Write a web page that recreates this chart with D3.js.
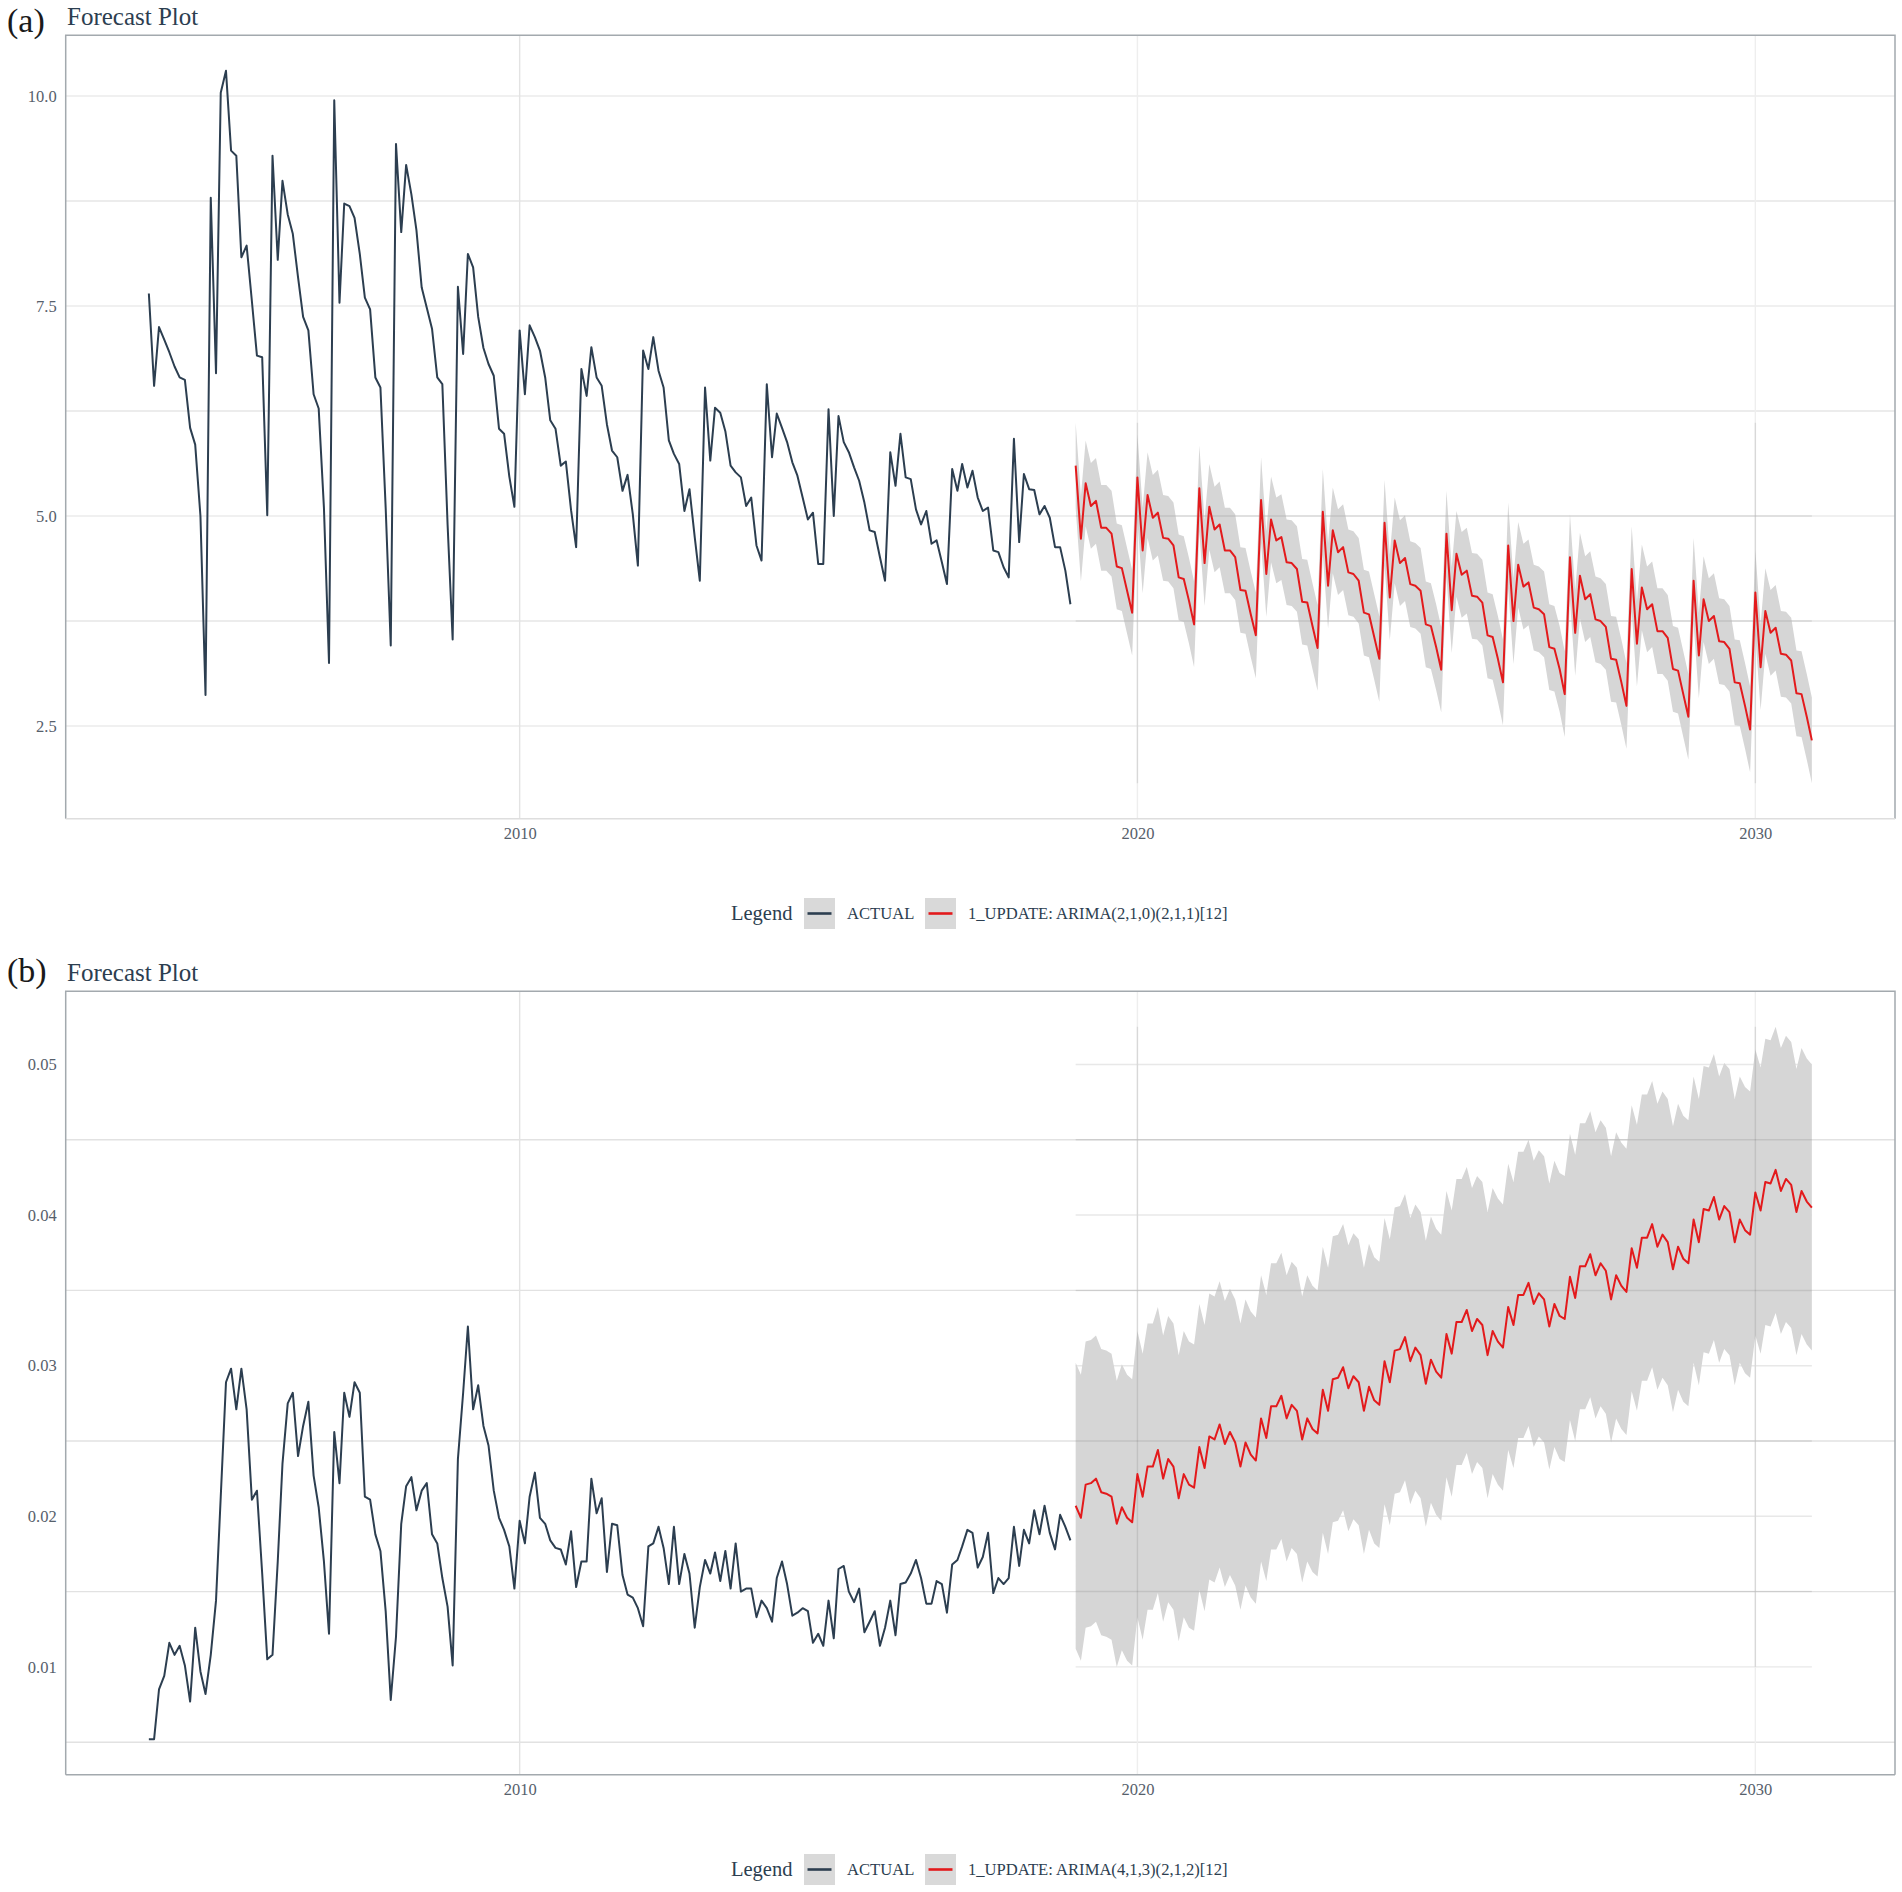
<!DOCTYPE html>
<html>
<head>
<meta charset="utf-8">
<script src="https://cdn.jsdelivr.net/npm/d3@7"></script>
<style>
  body { margin: 0; background: #fff; }
  svg { display: block; }
  text { font-family: "Liberation Serif", "Times New Roman", serif; }
</style>
</head>
<body>
<svg id="chart"></svg>
<script>
const width = 1902;
const height = 1892;

// ---- Data (monthly) ----
// Panel (a): actual Jan 2004 - Dec 2018
const actualA = [
  7.65, 6.55, 7.25, 7.10, 6.95, 6.78, 6.65, 6.62, 6.05, 5.85, 5.00, 2.87,
  8.79, 6.70, 10.04, 10.30, 9.35, 9.29, 8.08, 8.22, 7.56, 6.91, 6.89, 5.01,
  9.29, 8.05, 8.99, 8.59, 8.36, 7.84, 7.37, 7.21, 6.45, 6.28, 5.10, 3.25,
  9.95, 7.54, 8.72, 8.69, 8.55, 8.12, 7.60, 7.46, 6.65, 6.53, 5.10, 3.46,
  9.43, 8.38, 9.18, 8.83, 8.40, 7.72, 7.48, 7.23, 6.65, 6.57, 4.90, 3.53,
  7.73, 6.93, 8.12, 7.96, 7.37, 7.00, 6.81, 6.67, 6.04, 5.98, 5.47, 5.11,
  7.21, 6.45, 7.27, 7.13, 6.97, 6.65, 6.14, 6.04, 5.60, 5.65, 5.07, 4.63,
  6.75, 6.43, 7.01, 6.65, 6.55, 6.09, 5.78, 5.70, 5.30, 5.49, 5.02, 4.41,
  6.97, 6.75, 7.13, 6.73, 6.53, 5.90, 5.74, 5.62, 5.06, 5.32, 4.75, 4.23,
  6.53, 5.66, 6.29, 6.23, 6.01, 5.60, 5.52, 5.46, 5.12, 5.22, 4.65, 4.47,
  6.57, 5.70, 6.22, 6.05, 5.88, 5.64, 5.48, 5.22, 4.96, 5.04, 4.43, 4.43,
  6.27, 5.00, 6.19, 5.88, 5.76, 5.58, 5.42, 5.16, 4.83, 4.81, 4.51, 4.23,
  5.76, 5.36, 5.98, 5.46, 5.44, 5.08, 4.90, 5.06, 4.67, 4.71, 4.45, 4.19,
  5.56, 5.30, 5.62, 5.34, 5.54, 5.22, 5.06, 5.10, 4.59, 4.57, 4.39, 4.27,
  5.92, 4.69, 5.50, 5.32, 5.31, 5.02, 5.12, 4.98, 4.63, 4.63, 4.35, 3.95
];

// Panel (a): forecast Jan 2019 - Dec 2030
const forecastA = [
  5.60, 4.73, 5.39, 5.12, 5.18, 4.86, 4.86, 4.79, 4.40, 4.38, 4.11, 3.85,
  5.46, 4.59, 5.25, 4.98, 5.04, 4.74, 4.73, 4.65, 4.27, 4.25, 3.99, 3.71,
  5.33, 4.44, 5.11, 4.84, 4.90, 4.59, 4.59, 4.51, 4.12, 4.11, 3.83, 3.58,
  5.19, 4.31, 4.96, 4.71, 4.75, 4.45, 4.44, 4.37, 3.98, 3.97, 3.69, 3.43,
  5.05, 4.17, 4.83, 4.57, 4.63, 4.33, 4.31, 4.23, 3.85, 3.83, 3.56, 3.30,
  4.92, 4.03, 4.71, 4.44, 4.50, 4.19, 4.17, 4.11, 3.71, 3.69, 3.44, 3.17,
  4.79, 3.88, 4.55, 4.30, 4.35, 4.05, 4.04, 3.97, 3.58, 3.56, 3.30, 3.02,
  4.65, 3.75, 4.42, 4.16, 4.21, 3.91, 3.89, 3.83, 3.44, 3.42, 3.18, 2.88,
  4.51, 3.61, 4.29, 4.01, 4.07, 3.77, 3.75, 3.68, 3.30, 3.29, 3.02, 2.74,
  4.37, 3.48, 4.15, 3.89, 3.95, 3.63, 3.63, 3.55, 3.18, 3.16, 2.88, 2.61,
  4.23, 3.34, 4.01, 3.75, 3.81, 3.51, 3.50, 3.42, 3.02, 3.01, 2.74, 2.46,
  4.09, 3.20, 3.87, 3.61, 3.67, 3.36, 3.35, 3.28, 2.89, 2.88, 2.61, 2.33
];

const upperA = [
  6.11, 5.24, 5.90, 5.63, 5.69, 5.37, 5.37, 5.30, 4.91, 4.89, 4.62, 4.36,
  5.97, 5.10, 5.76, 5.49, 5.55, 5.25, 5.24, 5.16, 4.78, 4.76, 4.50, 4.22,
  5.84, 4.95, 5.62, 5.35, 5.41, 5.10, 5.10, 5.02, 4.63, 4.62, 4.34, 4.09,
  5.70, 4.82, 5.47, 5.22, 5.26, 4.96, 4.95, 4.88, 4.49, 4.48, 4.20, 3.94,
  5.56, 4.68, 5.34, 5.08, 5.14, 4.84, 4.82, 4.74, 4.36, 4.34, 4.07, 3.81,
  5.43, 4.54, 5.22, 4.95, 5.01, 4.70, 4.68, 4.62, 4.22, 4.20, 3.95, 3.68,
  5.30, 4.39, 5.06, 4.81, 4.86, 4.56, 4.55, 4.48, 4.09, 4.07, 3.81, 3.53,
  5.16, 4.26, 4.93, 4.67, 4.72, 4.42, 4.40, 4.34, 3.95, 3.93, 3.69, 3.39,
  5.02, 4.12, 4.80, 4.52, 4.58, 4.28, 4.26, 4.19, 3.81, 3.80, 3.53, 3.25,
  4.88, 3.99, 4.66, 4.40, 4.46, 4.14, 4.14, 4.06, 3.69, 3.67, 3.39, 3.12,
  4.74, 3.85, 4.52, 4.26, 4.32, 4.02, 4.01, 3.93, 3.53, 3.52, 3.25, 2.97,
  4.60, 3.71, 4.38, 4.12, 4.18, 3.87, 3.86, 3.79, 3.40, 3.39, 3.12, 2.84
];

const lowerA = [
  5.09, 4.22, 4.88, 4.61, 4.67, 4.35, 4.35, 4.28, 3.89, 3.87, 3.60, 3.34,
  4.95, 4.08, 4.74, 4.47, 4.53, 4.23, 4.22, 4.14, 3.76, 3.74, 3.48, 3.20,
  4.82, 3.93, 4.60, 4.33, 4.39, 4.08, 4.08, 4.00, 3.61, 3.60, 3.32, 3.07,
  4.68, 3.80, 4.45, 4.20, 4.24, 3.94, 3.93, 3.86, 3.47, 3.46, 3.18, 2.92,
  4.54, 3.66, 4.32, 4.06, 4.12, 3.82, 3.80, 3.72, 3.34, 3.32, 3.05, 2.79,
  4.41, 3.52, 4.20, 3.93, 3.99, 3.68, 3.66, 3.60, 3.20, 3.18, 2.93, 2.66,
  4.28, 3.37, 4.04, 3.79, 3.84, 3.54, 3.53, 3.46, 3.07, 3.05, 2.79, 2.51,
  4.14, 3.24, 3.91, 3.65, 3.70, 3.40, 3.38, 3.32, 2.93, 2.91, 2.67, 2.37,
  4.00, 3.10, 3.78, 3.50, 3.56, 3.26, 3.24, 3.17, 2.79, 2.78, 2.51, 2.23,
  3.86, 2.97, 3.64, 3.38, 3.44, 3.12, 3.12, 3.04, 2.67, 2.65, 2.37, 2.10,
  3.72, 2.83, 3.50, 3.24, 3.30, 3.00, 2.99, 2.91, 2.51, 2.50, 2.23, 1.95,
  3.58, 2.69, 3.36, 3.10, 3.16, 2.85, 2.84, 2.77, 2.38, 2.37, 2.10, 1.82
];

// Panel (b): actual Jan 2004 - Dec 2018
const actualB = [
  0.0052, 0.0052, 0.0085, 0.0094, 0.0116, 0.0108, 0.0114, 0.0101, 0.0077, 0.0126, 0.0097, 0.0082,
  0.0108, 0.0144, 0.0213, 0.0289, 0.0298, 0.0271, 0.0298, 0.0271, 0.0211, 0.0217, 0.0162, 0.0105,
  0.0108, 0.0170, 0.0235, 0.0275, 0.0282, 0.0240, 0.0260, 0.0276, 0.0227, 0.0206, 0.0170, 0.0122,
  0.0256, 0.0222, 0.0282, 0.0266, 0.0289, 0.0282, 0.0213, 0.0211, 0.0188, 0.0177, 0.0137, 0.0078,
  0.0120, 0.0195, 0.0220, 0.0226, 0.0204, 0.0217, 0.0222, 0.0188, 0.0182, 0.0159, 0.0140, 0.0101,
  0.0238, 0.0282, 0.0326, 0.0271, 0.0287, 0.0260, 0.0247, 0.0217, 0.0199, 0.0191, 0.0180, 0.0152,
  0.0197, 0.0182, 0.0213, 0.0229, 0.0199, 0.0195, 0.0184, 0.0179, 0.0178, 0.0168, 0.0190, 0.0153,
  0.0170, 0.0170, 0.0225, 0.0202, 0.0212, 0.0163, 0.0195, 0.0194, 0.0161, 0.0148, 0.0146, 0.0139,
  0.0127, 0.0180, 0.0182, 0.0193, 0.0179, 0.0155, 0.0193, 0.0155, 0.0175, 0.0162, 0.0126, 0.0153,
  0.0171, 0.0162, 0.0176, 0.0157, 0.0177, 0.0152, 0.0182, 0.0150, 0.0152, 0.0152, 0.0133, 0.0144,
  0.0139, 0.0130, 0.0159, 0.0170, 0.0155, 0.0134, 0.0136, 0.0139, 0.0137, 0.0116, 0.0122, 0.0114,
  0.0144, 0.0119, 0.0165, 0.0167, 0.0150, 0.0143, 0.0152, 0.0123, 0.0130, 0.0137, 0.0114, 0.0126,
  0.0144, 0.0121, 0.0155, 0.0156, 0.0162, 0.0171, 0.0159, 0.0142, 0.0142, 0.0157, 0.0155, 0.0136,
  0.0168, 0.0171, 0.0180, 0.0191, 0.0189, 0.0166, 0.0173, 0.0189, 0.0149, 0.0159, 0.0155, 0.0159,
  0.0193, 0.0167, 0.0191, 0.0182, 0.0204, 0.0188, 0.0207, 0.0189, 0.0178, 0.0201, 0.0193, 0.0184
];

// Panel (b): forecast Jan 2019 - Dec 2030
const forecastB = [
  0.0207, 0.0199, 0.0221, 0.0222, 0.0225, 0.0216, 0.0215, 0.0213, 0.0195, 0.0206, 0.0199, 0.0196,
  0.0228, 0.0213, 0.0233, 0.0233, 0.0244, 0.0225, 0.0238, 0.0233, 0.0212, 0.0228, 0.0221, 0.0219,
  0.0246, 0.0232, 0.0253, 0.0251, 0.0261, 0.0248, 0.0256, 0.0249, 0.0233, 0.0249, 0.0241, 0.0237,
  0.0265, 0.0252, 0.0273, 0.0273, 0.0280, 0.0265, 0.0274, 0.0270, 0.0251, 0.0265, 0.0258, 0.0255,
  0.0284, 0.0270, 0.0291, 0.0292, 0.0299, 0.0285, 0.0293, 0.0289, 0.0270, 0.0286, 0.0277, 0.0274,
  0.0303, 0.0289, 0.0310, 0.0311, 0.0319, 0.0303, 0.0312, 0.0307, 0.0288, 0.0304, 0.0296, 0.0292,
  0.0321, 0.0308, 0.0329, 0.0329, 0.0337, 0.0323, 0.0331, 0.0327, 0.0307, 0.0323, 0.0316, 0.0312,
  0.0339, 0.0327, 0.0347, 0.0347, 0.0355, 0.0341, 0.0348, 0.0344, 0.0326, 0.0341, 0.0333, 0.0331,
  0.0359, 0.0345, 0.0366, 0.0366, 0.0374, 0.0360, 0.0368, 0.0363, 0.0344, 0.0360, 0.0353, 0.0349,
  0.0378, 0.0365, 0.0385, 0.0385, 0.0394, 0.0379, 0.0387, 0.0382, 0.0364, 0.0379, 0.0371, 0.0368,
  0.0397, 0.0382, 0.0404, 0.0403, 0.0412, 0.0397, 0.0406, 0.0402, 0.0382, 0.0397, 0.0390, 0.0387,
  0.0415, 0.0403, 0.0422, 0.0421, 0.0430, 0.0416, 0.0424, 0.0420, 0.0402, 0.0416, 0.0409, 0.0405
];

const upperB = [
  0.0302, 0.0294, 0.0316, 0.0317, 0.0320, 0.0311, 0.0310, 0.0308, 0.0290, 0.0301, 0.0294, 0.0291,
  0.0323, 0.0308, 0.0328, 0.0328, 0.0339, 0.0320, 0.0333, 0.0328, 0.0307, 0.0323, 0.0316, 0.0314,
  0.0341, 0.0327, 0.0348, 0.0346, 0.0356, 0.0343, 0.0351, 0.0344, 0.0328, 0.0344, 0.0336, 0.0332,
  0.0360, 0.0347, 0.0368, 0.0368, 0.0375, 0.0360, 0.0369, 0.0365, 0.0346, 0.0360, 0.0353, 0.0350,
  0.0379, 0.0365, 0.0386, 0.0387, 0.0394, 0.0380, 0.0388, 0.0384, 0.0365, 0.0381, 0.0372, 0.0369,
  0.0398, 0.0384, 0.0405, 0.0406, 0.0414, 0.0398, 0.0407, 0.0402, 0.0383, 0.0399, 0.0391, 0.0387,
  0.0416, 0.0403, 0.0424, 0.0424, 0.0432, 0.0418, 0.0426, 0.0422, 0.0402, 0.0418, 0.0411, 0.0407,
  0.0434, 0.0422, 0.0442, 0.0442, 0.0450, 0.0436, 0.0443, 0.0439, 0.0421, 0.0436, 0.0428, 0.0426,
  0.0454, 0.0440, 0.0461, 0.0461, 0.0469, 0.0455, 0.0463, 0.0458, 0.0439, 0.0455, 0.0448, 0.0444,
  0.0473, 0.0460, 0.0480, 0.0480, 0.0489, 0.0474, 0.0482, 0.0477, 0.0459, 0.0474, 0.0466, 0.0463,
  0.0492, 0.0477, 0.0499, 0.0498, 0.0507, 0.0492, 0.0501, 0.0497, 0.0477, 0.0492, 0.0485, 0.0482,
  0.0510, 0.0498, 0.0517, 0.0516, 0.0525, 0.0511, 0.0519, 0.0515, 0.0497, 0.0511, 0.0504, 0.0500
];

const lowerB = [
  0.0112, 0.0104, 0.0126, 0.0127, 0.0130, 0.0121, 0.0120, 0.0118, 0.0100, 0.0111, 0.0104, 0.0101,
  0.0133, 0.0118, 0.0138, 0.0138, 0.0149, 0.0130, 0.0143, 0.0138, 0.0117, 0.0133, 0.0126, 0.0124,
  0.0151, 0.0137, 0.0158, 0.0156, 0.0166, 0.0153, 0.0161, 0.0154, 0.0138, 0.0154, 0.0146, 0.0142,
  0.0170, 0.0157, 0.0178, 0.0178, 0.0185, 0.0170, 0.0179, 0.0175, 0.0156, 0.0170, 0.0163, 0.0160,
  0.0189, 0.0175, 0.0196, 0.0197, 0.0204, 0.0190, 0.0198, 0.0194, 0.0175, 0.0191, 0.0182, 0.0179,
  0.0208, 0.0194, 0.0215, 0.0216, 0.0224, 0.0208, 0.0217, 0.0212, 0.0193, 0.0209, 0.0201, 0.0197,
  0.0226, 0.0213, 0.0234, 0.0234, 0.0242, 0.0228, 0.0236, 0.0232, 0.0212, 0.0228, 0.0221, 0.0217,
  0.0244, 0.0232, 0.0252, 0.0252, 0.0260, 0.0246, 0.0253, 0.0249, 0.0231, 0.0246, 0.0238, 0.0236,
  0.0264, 0.0250, 0.0271, 0.0271, 0.0279, 0.0265, 0.0273, 0.0268, 0.0249, 0.0265, 0.0258, 0.0254,
  0.0283, 0.0270, 0.0290, 0.0290, 0.0299, 0.0284, 0.0292, 0.0287, 0.0269, 0.0284, 0.0276, 0.0273,
  0.0302, 0.0287, 0.0309, 0.0308, 0.0317, 0.0302, 0.0311, 0.0307, 0.0287, 0.0302, 0.0295, 0.0292,
  0.0320, 0.0308, 0.0327, 0.0326, 0.0335, 0.0321, 0.0329, 0.0325, 0.0307, 0.0321, 0.0314, 0.0310
];

// Axis ticks
const xTickYears = [2010, 2020, 2030];
const yTicksA = [2.5, 5.0, 7.5, 10.0];
const yMinorA = [3.75, 6.25, 8.75];
const yTicksB = [0.01, 0.02, 0.03, 0.04, 0.05];
const yMinorB = [0.005, 0.015, 0.025, 0.035, 0.045];

const modelLabelA = '1_UPDATE: ARIMA(2,1,0)(2,1,1)[12]';
const modelLabelB = '1_UPDATE: ARIMA(4,1,3)(2,1,2)[12]';

// ---- Layout ----
const plotLeft = 65.7, plotRight = 1895;
const panelTop = 35.2, panelBottom = 818.8;
const actualColor = '#2c3e50';
const forecastColor = '#e31a1c';
const ribbonColor = '#d6d6d6';
const textColor = '#2c3e50';
const tickColor = '#56606b';
const borderColor = '#a3a9ae';

const svg = d3.select('#chart')
    .attr('width', width)
    .attr('height', height);

svg.append('rect').attr('width', width).attr('height', height).attr('fill', '#fff');

function monthDates(startYear, n) {
    return d3.range(n).map(i => new Date(startYear, i, 1));
}
const actualDates = monthDates(2004, actualA.length);
const forecastDates = monthDates(2019, forecastA.length);

// ggplot-like 5% expansion
function expand([a, b], f = 0.05) {
    const d = (b - a) * f;
    return [a - d, b + d];
}

function drawPanel(cfg) {
    const g = svg.append('g').attr('transform', `translate(0,${cfg.dy})`);

    const x = d3.scaleTime()
        .domain(expand([+actualDates[0], +forecastDates[forecastDates.length - 1]]).map(t => new Date(t)))
        .range([plotLeft, plotRight]);
    const y = d3.scaleLinear()
        .domain(expand([d3.min(cfg.actual.concat(cfg.lower)), d3.max(cfg.actual.concat(cfg.upper))]))
        .range([panelBottom, panelTop]);

    const fx0 = x(forecastDates[0]);
    const fx1 = x(forecastDates[forecastDates.length - 1]);
    const ry0 = y(d3.max(cfg.upper));
    const ry1 = y(d3.min(cfg.lower));

    // Grid
    const grid = g.append('g').attr('class', 'grid');
    grid.selectAll('.minor-y').data(cfg.yMinor).join('line')
        .attr('class', 'minor-y')
        .attr('x1', plotLeft).attr('x2', plotRight)
        .attr('y1', d => y(d)).attr('y2', d => y(d))
        .attr('stroke', cfg.minorColor).attr('stroke-width', 1.4);
    grid.selectAll('.major-y').data(cfg.yTicks).join('line')
        .attr('class', 'major-y')
        .attr('x1', cfg.majorInForecastOnly ? fx0 : plotLeft)
        .attr('x2', cfg.majorInForecastOnly ? fx1 : plotRight)
        .attr('y1', d => y(d)).attr('y2', d => y(d))
        .attr('stroke', cfg.majorColor).attr('stroke-width', 1.4);
    grid.selectAll('.major-x').data(xTickYears).join('line')
        .attr('class', 'major-x')
        .attr('x1', d => x(new Date(d, 0, 1))).attr('x2', d => x(new Date(d, 0, 1)))
        .attr('y1', panelTop).attr('y2', panelBottom)
        .attr('stroke', d => d === 2010 ? '#e3e3e3' : '#eeeeee').attr('stroke-width', 1.4);

    // Confidence ribbon
    const area = d3.area()
        .x((d, i) => x(forecastDates[i]))
        .y0((d, i) => y(cfg.lower[i]))
        .y1((d, i) => y(cfg.upper[i]));
    g.append('path')
        .datum(cfg.forecast)
        .attr('d', area)
        .attr('fill', ribbonColor);

    // Grid lines that show over the forecast region
    const over = g.append('g').attr('class', 'overlay').attr('stroke', '#000').attr('stroke-opacity', 0.09).attr('stroke-width', 1.5);
    over.selectAll('.oh').data(cfg.overlayH).join('line')
        .attr('x1', fx0).attr('x2', fx1)
        .attr('y1', d => y(d)).attr('y2', d => y(d));
    over.selectAll('.ov').data(cfg.overlayV).join('line')
        .attr('x1', d => x(new Date(d, 0, 1))).attr('x2', d => x(new Date(d, 0, 1)))
        .attr('y1', ry0).attr('y2', ry1);

    // Lines
    g.append('path')
        .datum(cfg.actual)
        .attr('d', d3.line().x((d, i) => x(actualDates[i])).y(d => y(d)))
        .attr('fill', 'none')
        .attr('stroke', actualColor)
        .attr('stroke-width', 2)
        .attr('stroke-linejoin', 'round');
    g.append('path')
        .datum(cfg.forecast)
        .attr('d', d3.line().x((d, i) => x(forecastDates[i])).y(d => y(d)))
        .attr('fill', 'none')
        .attr('stroke', forecastColor)
        .attr('stroke-width', 2)
        .attr('stroke-linejoin', 'round');

    // Panel border
    const border = g.append('g').attr('stroke-width', 1.5).attr('fill', 'none');
    border.append('path')
        .attr('d', `M${plotLeft},${panelBottom}V${panelTop}H${plotRight}V${panelBottom}`)
        .attr('stroke', borderColor);
    border.append('line')
        .attr('x1', plotLeft).attr('x2', plotRight)
        .attr('y1', panelBottom).attr('y2', panelBottom)
        .attr('stroke', cfg.bottomColor);

    // Axes
    const yAxis = g.append('g')
        .attr('transform', `translate(${plotLeft},0)`)
        .call(d3.axisLeft(y).tickValues(cfg.yTicks).tickFormat(cfg.fmt).tickSize(0).tickPadding(9));
    const xAxis = g.append('g')
        .attr('transform', `translate(0,${panelBottom})`)
        .call(d3.axisBottom(x).tickValues(xTickYears.map(yr => new Date(yr, 0, 1)))
            .tickFormat(d3.timeFormat('%Y')).tickSize(0).tickPadding(8));
    [yAxis, xAxis].forEach(ax => {
        ax.select('.domain').remove();
        ax.attr('font-family', null).attr('font-size', null);
        ax.selectAll('text').attr('font-size', 16.5).attr('fill', tickColor);
    });

    // Tag and title
    g.append('text')
        .attr('x', 7).attr('y', cfg.tagY)
        .attr('font-size', 34).attr('fill', '#1a1a1a')
        .text(cfg.tag);
    g.append('text')
        .attr('x', 67).attr('y', 25.2)
        .attr('font-size', 25).attr('fill', textColor)
        .text('Forecast Plot');

    // Legend
    const ly = 913.5;
    const lg = g.append('g').attr('class', 'legend');
    lg.append('text')
        .attr('x', 731).attr('y', ly).attr('dy', '0.33em')
        .attr('font-size', 20.5).attr('fill', textColor)
        .text('Legend');
    const keys = [
        { label: 'ACTUAL', color: actualColor, kx: 804, tx: 847 },
        { label: cfg.modelLabel, color: forecastColor, kx: 925, tx: 968 }
    ];
    keys.forEach(k => {
        lg.append('rect')
            .attr('x', k.kx).attr('y', ly - 15.5)
            .attr('width', 31).attr('height', 31)
            .attr('fill', '#d9d9d9');
        lg.append('line')
            .attr('x1', k.kx + 3.5).attr('x2', k.kx + 27.5)
            .attr('y1', ly).attr('y2', ly)
            .attr('stroke', k.color).attr('stroke-width', 2.6);
        lg.append('text')
            .attr('x', k.tx).attr('y', ly).attr('dy', '0.34em')
            .attr('font-size', 16.6).attr('fill', textColor)
            .text(k.label);
    });
}

drawPanel({
    dy: 0, tag: '(a)', tagY: 32,
    actual: actualA, forecast: forecastA, upper: upperA, lower: lowerA,
    yTicks: yTicksA, yMinor: yMinorA, fmt: d3.format('.1f'),
    minorColor: '#e6e6e6', majorColor: '#ebebeb', majorInForecastOnly: false,
    overlayH: [5.0, 3.75], overlayV: [2020, 2030],
    bottomColor: '#dedede', modelLabel: modelLabelA
});

drawPanel({
    dy: 956, tag: '(b)', tagY: 26,
    actual: actualB, forecast: forecastB, upper: upperB, lower: lowerB,
    yTicks: yTicksB, yMinor: yMinorB, fmt: d3.format('.2f'),
    minorColor: '#e2e2e2', majorColor: '#e8e8e8', majorInForecastOnly: true,
    overlayH: [0.015, 0.025, 0.035, 0.045], overlayV: [2020, 2030],
    bottomColor: borderColor, modelLabel: modelLabelB
});
</script>
</body>
</html>
